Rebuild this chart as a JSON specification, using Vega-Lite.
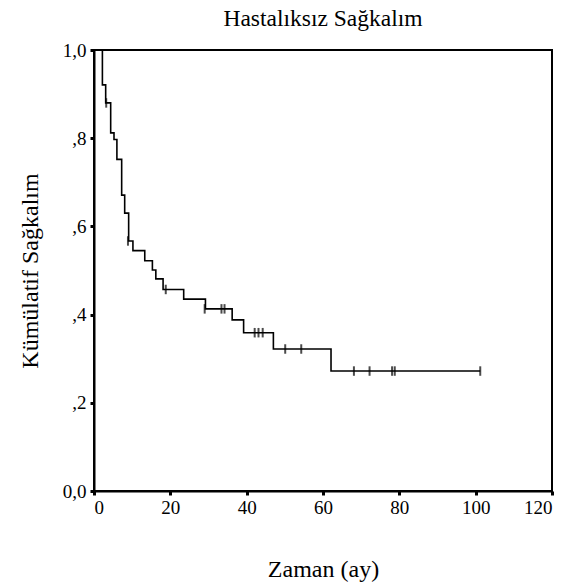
{
  "$schema": "https://vega.github.io/schema/vega-lite/v6.json",
  "autosize": "none",
  "width": 458,
  "height": 441,
  "padding": {"left": 94, "top": 50, "right": 26, "bottom": 96},
  "background": "white",
  "title": {
    "text": "Hastalıksız Sağkalım",
    "font": "Liberation Serif, Times New Roman, serif",
    "fontSize": 23.5,
    "fontWeight": "normal",
    "color": "black",
    "anchor": "middle",
    "offset": 11
  },
  "config": {
    "view": {"stroke": "black", "strokeWidth": 2},
    "axis": {
      "grid": false,
      "domainColor": "black",
      "domainWidth": 2,
      "tickColor": "black",
      "tickSize": 4,
      "tickWidth": 3,
      "labelFont": "Liberation Serif, Times New Roman, serif",
      "labelFontSize": 19,
      "labelColor": "black",
      "titleFont": "Liberation Serif, Times New Roman, serif",
      "titleFontSize": 24,
      "titleFontWeight": "normal",
      "titleColor": "black"
    }
  },
  "datasets": {
    "curve": [
      {"t": 0, "s": 1.0},
      {"t": 2.2, "s": 0.921},
      {"t": 3.06, "s": 0.880},
      {"t": 4.37, "s": 0.812},
      {"t": 5.24, "s": 0.797},
      {"t": 6.0, "s": 0.752},
      {"t": 7.25, "s": 0.671},
      {"t": 8.04, "s": 0.630},
      {"t": 9.08, "s": 0.567},
      {"t": 10.2, "s": 0.545},
      {"t": 13.3, "s": 0.522},
      {"t": 15.3, "s": 0.501},
      {"t": 16.2, "s": 0.481},
      {"t": 18.1, "s": 0.457},
      {"t": 23.5, "s": 0.435},
      {"t": 29.2, "s": 0.413},
      {"t": 36.2, "s": 0.388},
      {"t": 39.2, "s": 0.359},
      {"t": 47.0, "s": 0.322},
      {"t": 62.1, "s": 0.272},
      {"t": 101.2, "s": 0.272}
    ],
    "censor": [
      {"t": 3.2, "s": 0.880},
      {"t": 8.9, "s": 0.567},
      {"t": 18.8, "s": 0.457},
      {"t": 29.0, "s": 0.413},
      {"t": 33.4, "s": 0.413},
      {"t": 34.2, "s": 0.413},
      {"t": 42.1, "s": 0.359},
      {"t": 43.1, "s": 0.359},
      {"t": 44.2, "s": 0.359},
      {"t": 50.1, "s": 0.322},
      {"t": 54.3, "s": 0.322},
      {"t": 68.1, "s": 0.272},
      {"t": 72.2, "s": 0.272},
      {"t": 78.1, "s": 0.272},
      {"t": 78.8, "s": 0.272},
      {"t": 101.2, "s": 0.272}
    ]
  },
  "layer": [
    {
      "data": {"name": "curve"},
      "mark": {"type": "line", "interpolate": "step-after", "color": "black", "strokeWidth": 1.6},
      "encoding": {
        "x": {
          "field": "t", "type": "quantitative",
          "scale": {"domain": [0, 120], "nice": false},
          "axis": {"title": "Zaman (ay)", "values": [0, 20, 40, 60, 80, 100, 120], "labelPadding": 3, "titlePadding": 40}
        },
        "y": {
          "field": "s", "type": "quantitative",
          "scale": {"domain": [0, 1], "nice": false},
          "axis": {
            "title": "Kümülatif Sağkalım",
            "values": [0, 0.2, 0.4, 0.6, 0.8, 1.0],
            "labelExpr": "datum.value == 0 ? '0,0' : datum.value == 1 ? '1,0' : ',' + format(datum.value * 10, 'd')",
            "labelPadding": 4,
            "titlePadding": 20
          }
        }
      }
    },
    {
      "data": {"name": "censor"},
      "mark": {"type": "point", "shape": "M0,-1L0,1", "size": 90, "stroke": "black", "strokeWidth": 2, "filled": false},
      "encoding": {
        "x": {"field": "t", "type": "quantitative"},
        "y": {"field": "s", "type": "quantitative"}
      }
    }
  ]
}
